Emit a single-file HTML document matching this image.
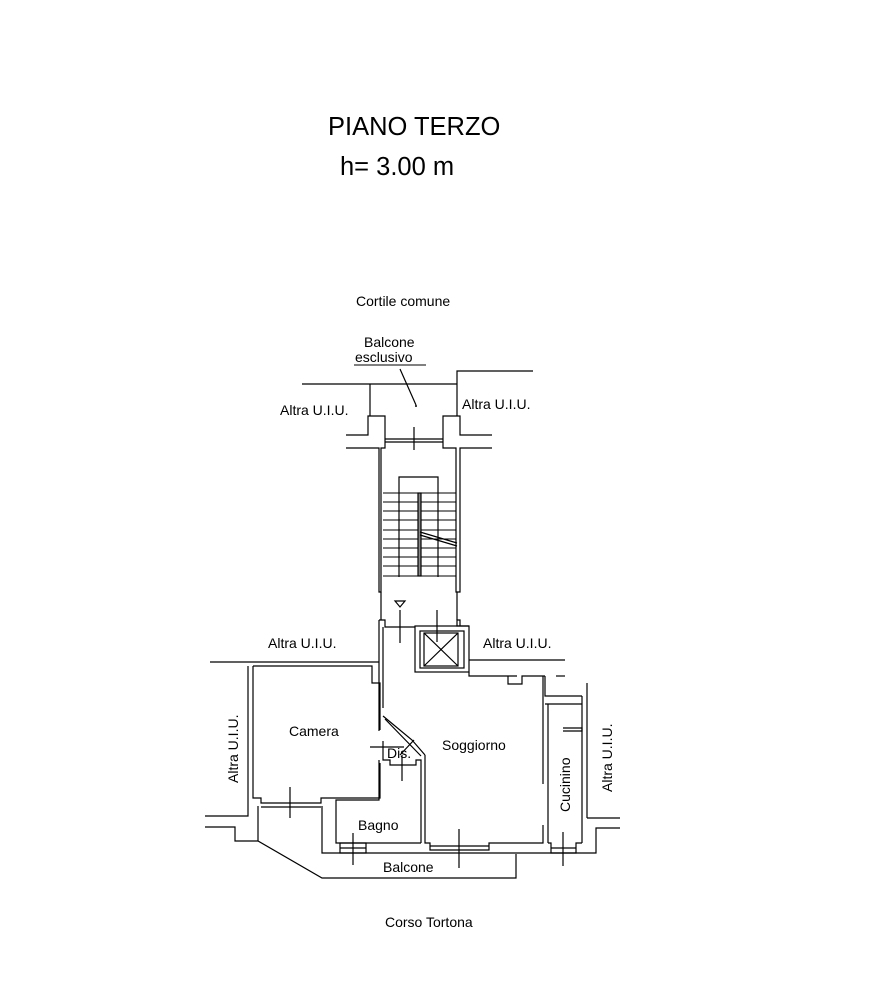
<!DOCTYPE html>
<html><head><meta charset="utf-8"><style>
html,body{margin:0;padding:0;background:#fff;}
svg{display:block}
text{font-family:"Liberation Sans",sans-serif;fill:#000}
</style></head><body>
<svg width="872" height="1004" viewBox="0 0 872 1004" xmlns="http://www.w3.org/2000/svg">
<g fill="none" stroke="#000" stroke-width="1.2">
<polyline points="302,384 457,384"/>
<polyline points="457,416 457,371 533,371"/>
<line x1="370" y1="384" x2="370" y2="416"/>
<line x1="400" y1="369" x2="416" y2="405"/>
<polyline points="346,435 368,435 368,416 385,416 385,448 381,448 381,592 379,592 379,448 346,448"/>
<polyline points="492,435 460,435 460,416 443,416 443,448 456,448 456,592 460,592 460,448 492,448"/>
<line x1="385" y1="439" x2="443" y2="439"/><line x1="385" y1="442" x2="443" y2="442"/>
<line x1="414" y1="427" x2="414" y2="450"/>
<polyline points="399,577 399,477 438,477 438,577"/>
<g stroke-width="1">
<line x1="383" y1="493" x2="456" y2="493"/><line x1="383" y1="502" x2="456" y2="502"/>
<line x1="383" y1="511" x2="456" y2="511"/><line x1="383" y1="520" x2="456" y2="520"/>
<line x1="383" y1="530" x2="456" y2="530"/><line x1="383" y1="539" x2="456" y2="539"/>
<line x1="383" y1="548" x2="456" y2="548"/><line x1="383" y1="557" x2="456" y2="557"/>
<line x1="383" y1="566" x2="456" y2="566"/><line x1="383" y1="576" x2="456" y2="576"/>
</g>
<rect x="418" y="493" width="3" height="83" fill="#888"/>
<line x1="420" y1="532" x2="457" y2="543"/><line x1="420" y1="535" x2="457" y2="546"/>
<path d="M395,601 h10 l-5,6 z"/><line x1="400" y1="610" x2="400" y2="643"/>
<line x1="381" y1="592" x2="381" y2="620"/><line x1="457" y1="592" x2="457" y2="620"/>
<polyline points="379,620 385,620 385,627 415,627"/>
<rect x="415" y="626" width="54" height="46"/>
<rect x="420" y="631" width="44" height="37"/>
<rect x="424" y="633" width="34" height="33"/>
<line x1="424" y1="633" x2="458" y2="666"/><line x1="458" y1="633" x2="424" y2="666"/>
<line x1="437" y1="610" x2="437" y2="642"/>
<polyline points="469,626 457,626 457,620 460,620 460,626"/>
<line x1="469" y1="660" x2="565" y2="660"/>
<polyline points="469,672 469,676 517,676"/>
<polyline points="508,676 508,684 522,684 522,676 545,676"/>
<polyline points="556,676 565,676"/>
<line x1="210" y1="662" x2="379" y2="662"/>
<line x1="379" y1="620" x2="379" y2="731"/>
<line x1="383" y1="627" x2="383" y2="708"/>
<polyline points="253,666 372,666 372,683 380,683 380,730"/>
<polyline points="248,666 248,816 205,816"/>
<polyline points="253,666 253,798 261,798 261,803 321,803 321,798 380,798 380,763"/>
<line x1="261" y1="807" x2="321" y2="807"/>
<line x1="290" y1="787" x2="290" y2="818"/>
<polyline points="205,827 235,827 235,841 258,841 322,878 516,878 516,854"/>
<polyline points="258,806 258,841"/>
<polyline points="322,806 322,853 545,853"/>
<polyline points="383,716 412,740 425,755"/>
<line x1="385" y1="719" x2="421" y2="756"/>
<line x1="370" y1="747" x2="404" y2="747"/>
<line x1="414" y1="740" x2="400" y2="755"/>
<polyline points="383,741 383,760 390,760 390,765 416,765 416,760 421,760 421,843"/>
<polyline points="379,760 379,800 336,800 336,843 421,843"/>
<line x1="402" y1="755" x2="402" y2="781"/>
<rect x="340" y="843" width="26" height="10"/><line x1="340" y1="848" x2="366" y2="848"/>
<line x1="353" y1="833" x2="353" y2="865"/>
<polyline points="425,755 425,843 430,843 430,850 489,850 489,843 543,843 543,825"/>
<line x1="430" y1="846" x2="489" y2="846"/>
<line x1="459" y1="829" x2="459" y2="868"/>
<line x1="543" y1="676" x2="543" y2="784"/>
<polyline points="545,676 545,696 582,696"/>
<polyline points="545,704 582,704"/><line x1="548" y1="704" x2="548" y2="843"/>
<polyline points="563,728 582,728 582,731 563,731"/>
<line x1="582" y1="696" x2="582" y2="843"/>
<line x1="587" y1="683" x2="587" y2="818"/>
<polyline points="587,818 610,818 620,818"/>
<polyline points="548,843 551,843 551,853 576,853 576,843 582,843"/>
<line x1="551" y1="848" x2="576" y2="848"/>
<line x1="563" y1="832" x2="563" y2="866"/>
<polyline points="545,853 596,853 596,828 620,828"/>
</g>
<circle cx="416" cy="406" r="1" fill="#000"/>
<text x="328" y="135" font-size="25.5">PIANO TERZO</text>
<text x="340" y="175" font-size="25.5">h= 3.00 m</text>
<text x="356" y="306" font-size="14">Cortile comune</text>
<text x="364" y="347" font-size="14">Balcone</text>
<text x="355" y="362" font-size="14">esclusivo</text>
<line x1="354" y1="365" x2="426" y2="365" stroke="#000"/>
<text x="280" y="415" font-size="14">Altra U.I.U.</text>
<text x="462" y="409" font-size="14">Altra U.I.U.</text>
<text x="268" y="648" font-size="14">Altra U.I.U.</text>
<text x="483" y="648" font-size="14">Altra U.I.U.</text>
<text x="289" y="736" font-size="14">Camera</text>
<text x="387" y="758" font-size="14">Dis.</text>
<text x="442" y="750" font-size="14">Soggiorno</text>
<text x="358" y="830" font-size="14">Bagno</text>
<text x="383" y="872" font-size="14">Balcone</text>
<text x="385" y="927" font-size="14">Corso Tortona</text>
<text transform="translate(238,783) rotate(-90)" font-size="14">Altra U.I.U.</text>
<text transform="translate(612,792) rotate(-90)" font-size="14">Altra U.I.U.</text>
<text transform="translate(570,812) rotate(-90)" font-size="14">Cucinino</text>
</svg>
</body></html>
